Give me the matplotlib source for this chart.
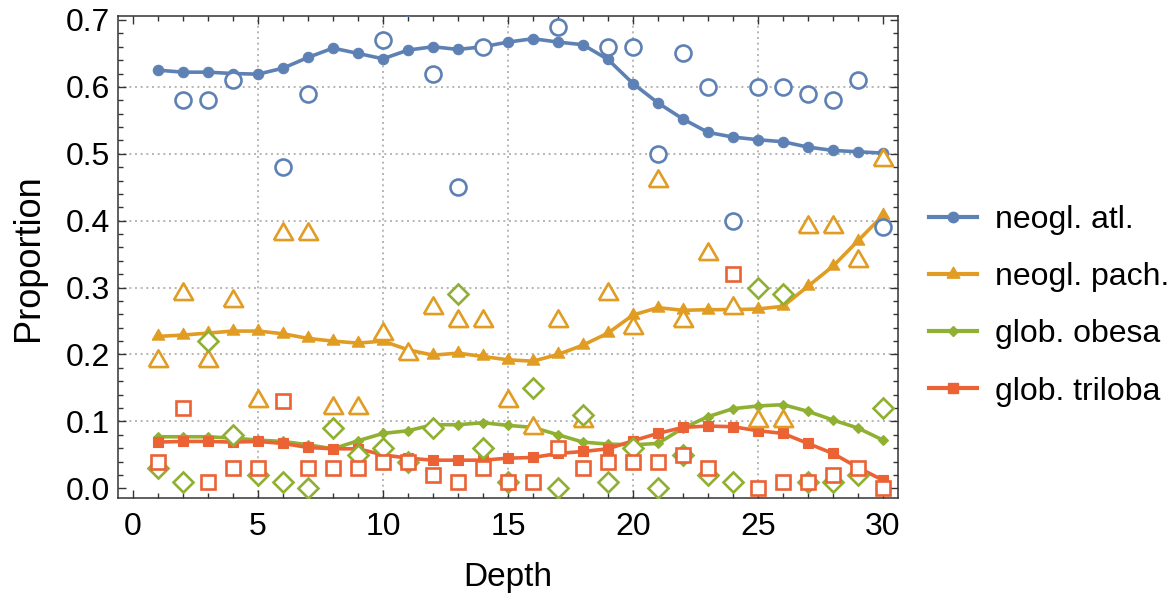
import numpy as np
import matplotlib
matplotlib.use('Agg')
import matplotlib.pyplot as plt
from matplotlib.lines import Line2D
from matplotlib.ticker import MultipleLocator, FormatStrFormatter

plt.rcParams['font.family'] = ['Liberation Sans', 'DejaVu Sans']

## proportions of four foraminifera species by depth
## open markers = observed, filled + line = smoothed fit

depth = np.arange(1, 31)

atl_obs = [0.74, 0.58, 0.58, 0.61, 0.82, 0.48, 0.59, 0.76, 0.80, 0.67,
           0.72, 0.62, 0.45, 0.66, 0.85, 0.75, 0.69, 0.76, 0.66, 0.66,
           0.50, 0.65, 0.60, 0.40, 0.60, 0.60, 0.59, 0.58, 0.61, 0.39]
pach_obs = [0.19, 0.29, 0.19, 0.28, 0.13, 0.38, 0.38, 0.12, 0.12, 0.23,
            0.20, 0.27, 0.25, 0.25, 0.13, 0.09, 0.25, 0.10, 0.29, 0.24,
            0.46, 0.25, 0.35, 0.27, 0.10, 0.10, 0.39, 0.39, 0.34, 0.49]
obesa_obs = [0.03, 0.01, 0.22, 0.08, 0.02, 0.01, 0.00, 0.09, 0.05, 0.06,
             0.04, 0.09, 0.29, 0.06, 0.01, 0.15, 0.00, 0.11, 0.01, 0.06,
             0.00, 0.05, 0.02, 0.01, 0.30, 0.29, 0.01, 0.01, 0.02, 0.12]
triloba_obs = [0.04, 0.12, 0.01, 0.03, 0.03, 0.13, 0.03, 0.03, 0.03, 0.04,
               0.04, 0.02, 0.01, 0.03, 0.01, 0.01, 0.06, 0.03, 0.04, 0.04,
               0.04, 0.05, 0.03, 0.32, 0.00, 0.01, 0.01, 0.02, 0.03, 0.00]

atl_fit = [0.625, 0.622, 0.622, 0.620, 0.619, 0.628, 0.644, 0.658, 0.650, 0.642,
           0.655, 0.660, 0.656, 0.660, 0.667, 0.672, 0.667, 0.663, 0.641, 0.605,
           0.576, 0.552, 0.532, 0.525, 0.521, 0.518, 0.510, 0.505, 0.503, 0.501]
pach_fit = [0.227, 0.229, 0.232, 0.235, 0.235, 0.231, 0.224, 0.220, 0.217, 0.220,
            0.207, 0.199, 0.202, 0.197, 0.192, 0.190, 0.200, 0.214, 0.232, 0.259,
            0.270, 0.266, 0.267, 0.267, 0.268, 0.272, 0.302, 0.332, 0.370, 0.408]
obesa_fit = [0.077, 0.077, 0.077, 0.075, 0.072, 0.070, 0.065, 0.059, 0.071, 0.082,
             0.086, 0.095, 0.095, 0.098, 0.094, 0.091, 0.080, 0.069, 0.066, 0.065,
             0.067, 0.090, 0.107, 0.119, 0.123, 0.125, 0.115, 0.102, 0.090, 0.072]
triloba_fit = [0.069, 0.070, 0.070, 0.069, 0.070, 0.067, 0.061, 0.059, 0.059, 0.050,
               0.045, 0.042, 0.042, 0.042, 0.045, 0.046, 0.052, 0.055, 0.059, 0.071,
               0.082, 0.091, 0.093, 0.092, 0.086, 0.082, 0.067, 0.052, 0.031, 0.012]

labels = ['neogl. atl.', 'neogl. pach.', 'glob. obesa', 'glob. triloba']
colors = ['#5E81B5', '#E19C24', '#8FB032', '#EB6235']

# equilateral triangle (wider than tall, like Mathematica's)
tri = [(-1, -0.577), (1, -0.577), (0, 1.155), (-1, -0.577)]
markers = ['o', tri, 'D', 's']
obs_ms = [11.5, 16, 9.8, 10.2]
fit_ms = [7.5, 10.5, 5.2, 6.5]

observed = [atl_obs, pach_obs, obesa_obs, triloba_obs]
fitted = [atl_fit, pach_fit, obesa_fit, triloba_fit]

fig = plt.figure(figsize=(11.72, 5.94), dpi=100)
ax = fig.add_axes([0.1007, 0.1611, 0.6655, 0.812])

# fitted lines
for fit, c, m, ms in zip(fitted, colors, markers, fit_ms):
    ax.plot(depth, fit, color=c, lw=2.6, marker=m, ms=ms, mec=c, mfc=c,
            mew=0.8, zorder=3)

# observed points (open)
for obs, c, m, ms in zip(observed, colors, markers, obs_ms):
    ax.plot(depth, obs, ls='none', marker=m, ms=ms, mec=c, mfc='white',
            mew=1.9, zorder=4)

ax.set_xlim(-0.6, 30.6)
ax.set_ylim(-0.015, 0.706)
ax.xaxis.set_major_locator(MultipleLocator(5))
ax.xaxis.set_minor_locator(MultipleLocator(1))
ax.yaxis.set_major_locator(MultipleLocator(0.1))
ax.yaxis.set_minor_locator(MultipleLocator(0.02))
ax.yaxis.set_major_formatter(FormatStrFormatter('%.1f'))

ax.tick_params(which='both', direction='in', top=True, right=True,
               color='#333333', width=1.0)
ax.tick_params(which='major', length=6, labelsize=23)
ax.tick_params(which='minor', length=3.5)
ax.tick_params(axis='x', which='major', pad=10)
ax.tick_params(axis='y', which='major', pad=6)
for s in ax.spines.values():
    s.set_color('#333333')
    s.set_linewidth(1.1)

ax.grid(True, which='major', color='#aaaaaa', ls=(0, (1.2, 2.2)), lw=1.2, zorder=0)
ax.set_axisbelow(True)
# no grid lines on the frame ends
for gl, v in zip(ax.xaxis.get_gridlines(), ax.get_xticks()):
    if v <= 0 or v >= 30:
        gl.set_visible(False)
for gl, v in zip(ax.yaxis.get_gridlines(), ax.get_yticks()):
    if v <= 0.001 or v >= 0.699:
        gl.set_visible(False)

ax.set_xlabel('Depth', fontsize=24, labelpad=14)
ax.set_ylabel('Proportion', fontsize=26, labelpad=14)

handles = [Line2D([0], [0], color=c, lw=3, marker=m, ms=ms, mec=c, mfc=c)
           for c, m, ms in zip(colors, markers, fit_ms)]
fig.legend(handles, labels, loc='center left', bbox_to_anchor=(0.7927, 0.485),
           frameon=False, fontsize=23, handlelength=1.5, handletextpad=0.55,
           labelspacing=0.85, borderpad=0, borderaxespad=0, numpoints=1)

fig.savefig('out.png', dpi=100)
